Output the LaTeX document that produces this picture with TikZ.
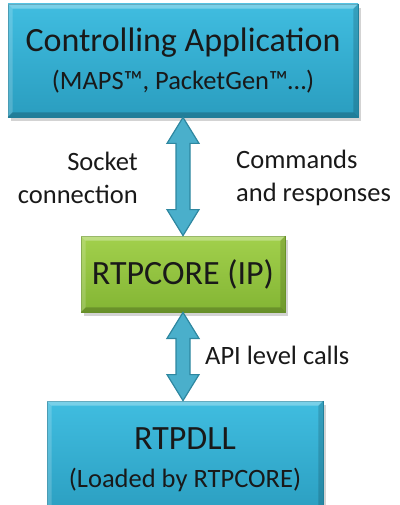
\documentclass[tikz,border=0pt]{standalone}
\usepackage{fontspec}
\setmainfont{Carlito}
\usetikzlibrary{shadows,calc}
\definecolor{bluetop}{HTML}{40BDE0}
\definecolor{bluebot}{HTML}{2A9DBF}
\definecolor{blueedge}{HTML}{2387A4}
\definecolor{greentop}{HTML}{A2D04C}
\definecolor{greenbot}{HTML}{83B534}
\definecolor{greenedge}{HTML}{6E9A2A}
\definecolor{arrowfill}{HTML}{4AAFCB}
\definecolor{arrowedge}{HTML}{2E87A0}
\newcommand{\bigsz}{\fontsize{34}{38}\selectfont}
\newcommand{\smallsz}{\fontsize{26.5}{33}\selectfont}
% light top/left and dark bottom/right edges of a box
\newcommand{\bevel}[1]{%
\fill [white, opacity=0.3] (#1.north west) -- (#1.north east) -- ++(-5,-5) -- ($(#1.north west)+(5,-5)$) -- cycle;
\fill [white, opacity=0.18] (#1.north west) -- (#1.south west) -- ++(5,5) -- ($(#1.north west)+(5,-5)$) -- cycle;
\fill [black, opacity=0.15] (#1.south east) -- (#1.north east) -- ++(-5,-5) -- ($(#1.south east)+(-5,5)$) -- cycle;
\fill [black, opacity=0.2] (#1.south east) -- (#1.south west) -- ++(5,5) -- ($(#1.south east)+(-5,5)$) -- cycle;}
\begin{document}
\begin{tikzpicture}[x=1pt,y=1pt]
\tikzstyle{every node}+=[inner sep=0pt, text=black!90]
\tikzstyle{boxshadow}=[drop shadow={shadow xshift=3pt, shadow yshift=-4pt, opacity=0.35}]
\tikzstyle{bluebox}=[boxshadow, draw=blueedge, line width=0.8pt, top color=bluetop, bottom color=bluebot, align=center]
\tikzstyle{greenbox}=[boxshadow, draw=greenedge, line width=0.8pt, top color=greentop, bottom color=greenbot, align=center]
\tikzstyle{link}=[draw=arrowedge, fill=arrowfill, line width=1.2pt, line join=miter]
\useasboundingbox (0,0) rectangle (399,-505);
% boxes
\node [bluebox, font=\bigsz, minimum width=350, minimum height=113] (app) at (183,-60.5)
  {Controlling Application\\ \smallsz (MAPS™, PacketGen™…)};
\bevel{app}
\node [greenbox, font=\bigsz, minimum width=204, minimum height=76] (core) at (183,-274)
  {RTPCORE (IP)};
\bevel{core}
\node [bluebox, font=\bigsz, minimum width=276, minimum height=117] (dll) at (185,-459.5)
  {RTPDLL\\ \smallsz (Loaded by RTPCORE)};
\bevel{dll}
% arrows
\newcommand{\dblarrow}[2]{%
\filldraw [link] (#1) -- ++(16,-26) -- ++(-9,0) -- ($(#2)+(7,26)$) -- ++(9,0) -- (#2)
  -- ++(-16,26) -- ++(9,0) -- ($(#1)+(-7,-26)$) -- ++(-9,0) -- cycle;}
\dblarrow{app.south}{core.north}
\dblarrow{core.south}{dll.north -| core.south}
% labels
\node [font=\smallsz, align=right, anchor=east] (sock) at (138,-178) {Socket\\connection};
\node [font=\smallsz, align=left, anchor=west] (cmds) at (236,-178) {Commands\\and responses};
\node [font=\smallsz, anchor=west] (api) at (205,-355) {API level calls};
\end{tikzpicture}
\end{document}
